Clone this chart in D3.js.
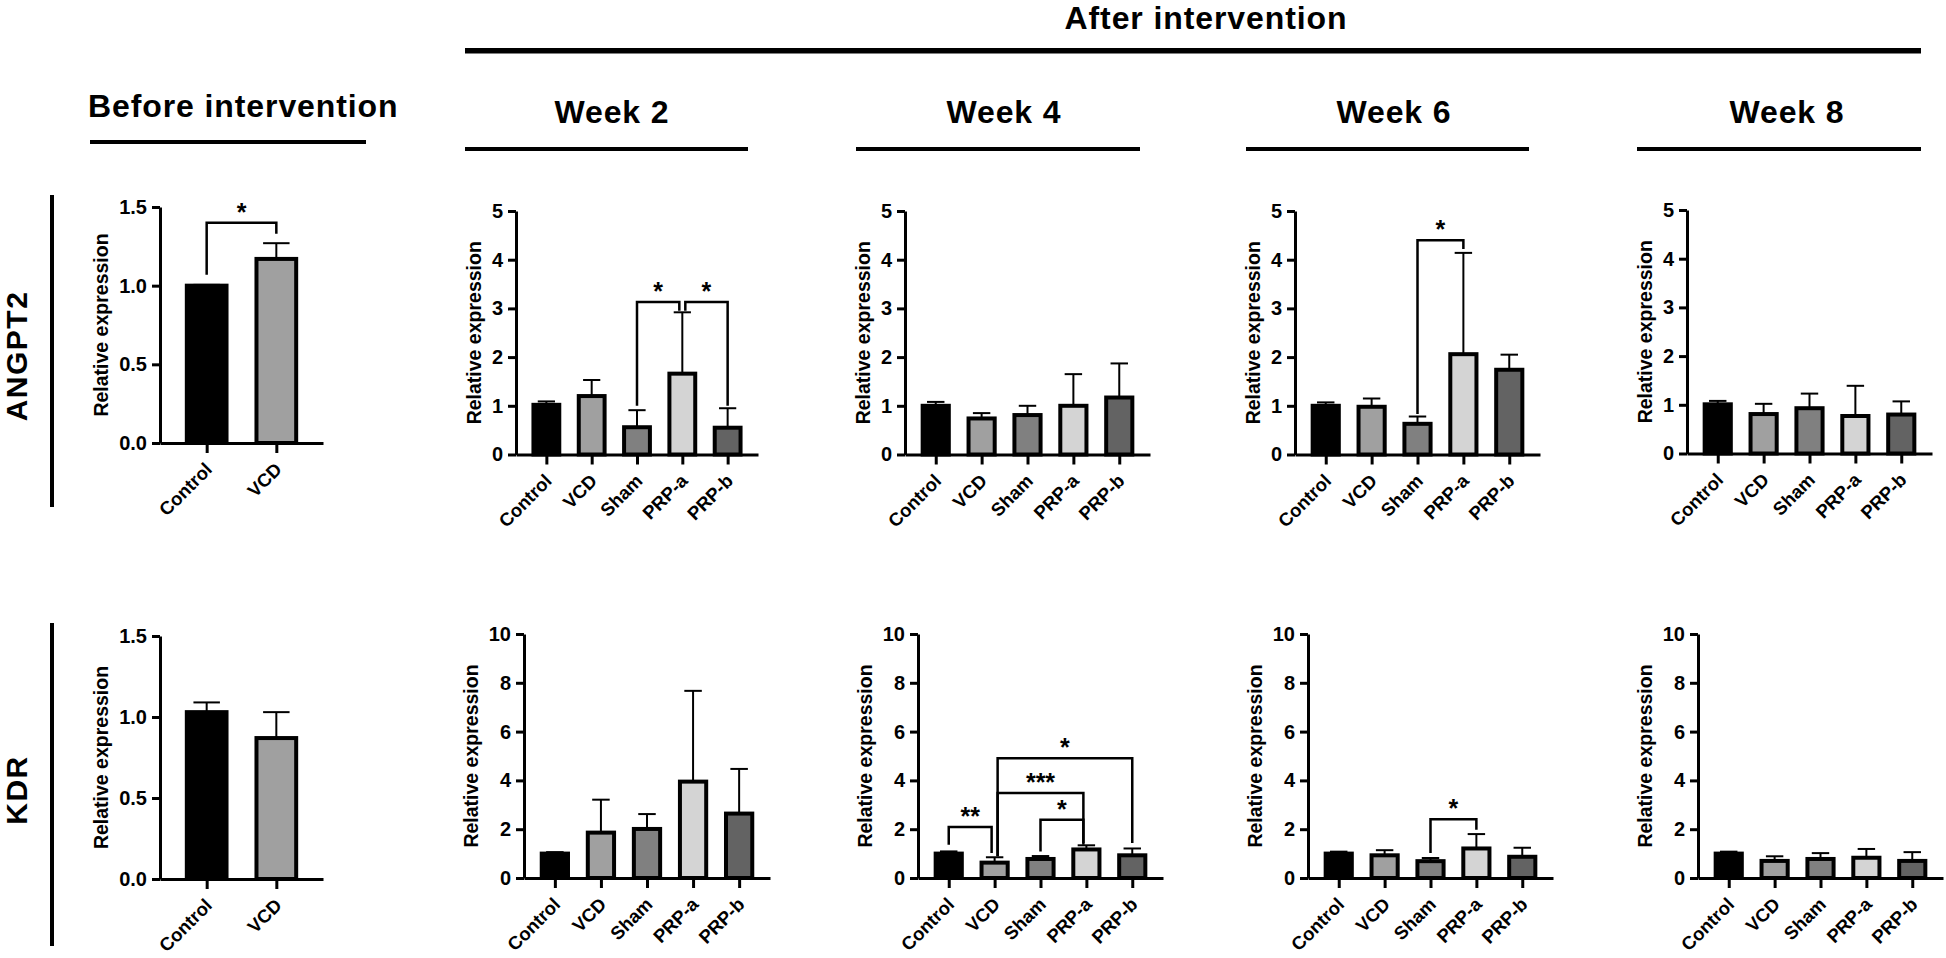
<!DOCTYPE html>
<html><head><meta charset="utf-8">
<script src="https://cdn.jsdelivr.net/npm/d3@7"></script>
<style>
body{margin:0;background:#fff}
svg{display:block}
text{font-family:"Liberation Sans",Arial,Helvetica,sans-serif;font-weight:bold;fill:#000}
</style>
</head><body>
<svg id="c" width="1946" height="958"></svg>
<script>
// ---------- data ----------
const groups = ["Control", "VCD", "Sham", "PRP-a", "PRP-b"];
const beforeGroups = ["Control", "VCD"];
const beforeTicks = [0, 0.5, 1.0, 1.5];
const angpt2Ticks = [0, 1, 2, 3, 4, 5];
const kdrTicks = [0, 2, 4, 6, 8, 10];
const weekTitles = ["Week 2", "Week 4", "Week 6", "Week 8"];
const rowLabels = ["ANGPT2", "KDR"];

const angpt2BeforeMean = [1.00, 1.17];
const angpt2BeforeSD   = [0.005, 0.10];
const kdrBeforeMean    = [1.03, 0.87];
const kdrBeforeSD      = [0.06, 0.16];

const angpt2W2Mean = [1.02, 1.20, 0.56, 1.66, 0.55];
const angpt2W2SD   = [0.07, 0.33, 0.35, 1.26, 0.40];
const angpt2W4Mean = [1.00, 0.74, 0.81, 1.00, 1.17];
const angpt2W4SD   = [0.08, 0.11, 0.19, 0.65, 0.70];
const angpt2W6Mean = [1.00, 0.98, 0.63, 2.06, 1.74];
const angpt2W6SD   = [0.07, 0.17, 0.15, 2.08, 0.31];
const angpt2W8Mean = [1.01, 0.81, 0.93, 0.77, 0.80];
const angpt2W8SD   = [0.07, 0.21, 0.30, 0.62, 0.27];

const kdrW2Mean = [1.00, 1.86, 2.01, 3.95, 2.64];
const kdrW2SD   = [0.06, 1.35, 0.61, 3.72, 1.83];
const kdrW4Mean = [1.00, 0.63, 0.78, 1.17, 0.93];
const kdrW4SD   = [0.09, 0.22, 0.12, 0.17, 0.28];
const kdrW6Mean = [1.00, 0.93, 0.69, 1.21, 0.87];
const kdrW6SD   = [0.08, 0.21, 0.13, 0.59, 0.37];
const kdrW8Mean = [1.00, 0.70, 0.78, 0.83, 0.70];
const kdrW8SD   = [0.08, 0.19, 0.24, 0.36, 0.36];

// significance brackets: groups, bracket height, leg ends (data units), label
const angpt2BeforeSig = [{a:"Control", b:"VCD", y:1.40, la:1.07, lb:1.33, label:"*"}];
const angpt2W2Sig = [
  {a:"Sham", b:"PRP-a", y:3.13, la:1.00, lb:2.95, label:"*"},
  {a:"PRP-a", b:"PRP-b", y:3.13, la:2.95, lb:1.00, label:"*"}
];
const angpt2W6Sig = [{a:"Sham", b:"PRP-a", y:4.40, la:0.83, lb:4.22, label:"*"}];
const kdrW4Sig = [
  {a:"Control", b:"VCD", y:2.09, la:1.36, lb:1.02, label:"**"},
  {a:"Sham", b:"PRP-a", y:2.39, la:1.09, lb:1.43, label:"*"},
  {a:"VCD", b:"PRP-a", y:3.48, la:0.89, lb:1.36, label:"***"},
  {a:"VCD", b:"PRP-b", y:4.91, la:0.89, lb:1.43, label:"*"}
];
const kdrW6Sig = [{a:"Sham", b:"PRP-a", y:2.41, la:1.02, lb:1.98, label:"*"}];

// ---------- styles ----------
const fillColor = {"Control":"#000000", "VCD":"#a0a0a0", "Sham":"#808080", "PRP-a":"#d4d4d4", "PRP-b":"#636363"};

// ---------- layout ----------
const panels = [
  {cats:beforeGroups, mean:angpt2BeforeMean, sd:angpt2BeforeSD, ticks:beforeTicks, fmt:d3.format(".1f"), sig:angpt2BeforeSig, x0:160, x1:323, yTop:207, yBot:443},
  {cats:groups, mean:angpt2W2Mean, sd:angpt2W2SD, ticks:angpt2Ticks, fmt:d3.format("d"), sig:angpt2W2Sig, x0:516, x1:758, yTop:211, yBot:454.5},
  {cats:groups, mean:angpt2W4Mean, sd:angpt2W4SD, ticks:angpt2Ticks, fmt:d3.format("d"), sig:[], x0:905, x1:1150, yTop:211, yBot:454.5},
  {cats:groups, mean:angpt2W6Mean, sd:angpt2W6SD, ticks:angpt2Ticks, fmt:d3.format("d"), sig:angpt2W6Sig, x0:1295, x1:1540, yTop:211, yBot:454.5},
  {cats:groups, mean:angpt2W8Mean, sd:angpt2W8SD, ticks:angpt2Ticks, fmt:d3.format("d"), sig:[], x0:1687, x1:1932, yTop:210, yBot:453.5},
  {cats:beforeGroups, mean:kdrBeforeMean, sd:kdrBeforeSD, ticks:beforeTicks, fmt:d3.format(".1f"), sig:[], x0:160, x1:323, yTop:636, yBot:879},
  {cats:groups, mean:kdrW2Mean, sd:kdrW2SD, ticks:kdrTicks, fmt:d3.format("d"), sig:[], x0:524, x1:770, yTop:634, yBot:878},
  {cats:groups, mean:kdrW4Mean, sd:kdrW4SD, ticks:kdrTicks, fmt:d3.format("d"), sig:kdrW4Sig, x0:918, x1:1163, yTop:634, yBot:878},
  {cats:groups, mean:kdrW6Mean, sd:kdrW6SD, ticks:kdrTicks, fmt:d3.format("d"), sig:kdrW6Sig, x0:1308, x1:1553, yTop:634, yBot:878},
  {cats:groups, mean:kdrW8Mean, sd:kdrW8SD, ticks:kdrTicks, fmt:d3.format("d"), sig:[], x0:1698, x1:1943, yTop:634, yBot:878}
];

const svg = d3.select("#c");
svg.append("rect").attr("width",1946).attr("height",958).attr("fill","#fff");

function drawPanel(p) {
  const g = svg.append("g");
  const x = d3.scalePoint().domain(p.cats).range([p.x0, p.x1]).padding(0.67);
  const yMax = p.ticks[p.ticks.length-1];
  const y = d3.scaleLinear().domain([0, yMax]).range([p.yBot, p.yTop]);
  const step = x.step();
  const bw = step * 0.57;
  const cap = step * 0.19;
  const data = p.cats.map((c,i)=>({c, m:p.mean[i], s:p.sd[i]}));

  // bars
  g.selectAll("rect.bar").data(data).join("rect")
    .attr("x", d=>x(d.c)-bw/2).attr("width", bw)
    .attr("y", d=>y(d.m)).attr("height", d=>y(0)-y(d.m))
    .attr("fill", d=>fillColor[d.c]).attr("stroke","#000").attr("stroke-width",4);
  // error bars (upper)
  g.selectAll("line.err").data(data).join("line")
    .attr("x1", d=>x(d.c)).attr("x2", d=>x(d.c))
    .attr("y1", d=>y(d.m)).attr("y2", d=>y(d.m+d.s))
    .attr("stroke","#000").attr("stroke-width",2);
  g.selectAll("line.cap").data(data).join("line")
    .attr("x1", d=>x(d.c)-cap).attr("x2", d=>x(d.c)+cap)
    .attr("y1", d=>y(d.m+d.s)).attr("y2", d=>y(d.m+d.s))
    .attr("stroke","#000").attr("stroke-width",2);

  // y axis
  const ya = g.append("g").attr("transform", `translate(${p.x0},0)`)
    .call(d3.axisLeft(y).tickValues(p.ticks).tickFormat(p.fmt).tickSize(8).tickSizeOuter(0).tickPadding(5));
  ya.select(".domain").attr("stroke-width",3);
  ya.selectAll(".tick line").attr("stroke-width",3);
  ya.selectAll(".tick text").attr("font-size",20).style("font-family",'"Liberation Sans",Arial,sans-serif').style("font-weight","bold");

  // x axis
  const xa = g.append("g").attr("transform", `translate(0,${p.yBot})`)
    .call(d3.axisBottom(x).tickSize(10).tickSizeOuter(0).tickFormat(""));
  xa.select(".domain").attr("stroke-width",3);
  xa.selectAll(".tick line").attr("stroke-width",3);
  xa.selectAll(".tick text").remove();
  g.selectAll("text.xl").data(p.cats).join("text").attr("class","xl")
    .attr("transform", c=>`translate(${x(c)+2},${p.yBot+23}) rotate(-45)`)
    .attr("text-anchor","end").attr("dy","0.35em").attr("font-size",18.5).text(c=>c);

  // y label
  let minX = d3.min(ya.selectAll(".tick text").nodes(), n=>n.getBBox().x);
  const lx = p.x0 + minX - 18;
  g.append("text").attr("transform", `translate(${lx},${(p.yTop+p.yBot)/2}) rotate(-90)`)
    .attr("text-anchor","middle").attr("dy","0.35em").attr("font-size",19.5).text("Relative expression");

  // significance brackets
  const count = {};
  p.sig.forEach(s=>{count[s.a]=(count[s.a]||0)+1; count[s.b]=(count[s.b]||0)+1;});
  p.sig.forEach(s=>{
    const xa1 = x(s.a) + (count[s.a]>1 ? 3 : 0);
    const xb1 = x(s.b) - (count[s.b]>1 ? 3 : 0);
    g.append("path")
      .attr("d", `M${xa1},${y(s.la)}V${y(s.y)}H${xb1}V${y(s.lb)}`)
      .attr("fill","none").attr("stroke","#000").attr("stroke-width",2.5);
    g.append("text").attr("x",(xa1+xb1)/2).attr("y", y(s.y)-2)
      .attr("text-anchor","middle").attr("font-size",25).text(s.label);
  });
}
panels.forEach(drawPanel);

// ---------- headers ----------
svg.append("text").attr("x",88).attr("y",117).attr("font-size",32).attr("letter-spacing","0.9px").text("Before intervention");
svg.append("rect").attr("x",90).attr("y",140).attr("width",276).attr("height",4);

svg.append("text").attr("x",1206).attr("y",29).attr("text-anchor","middle").attr("font-size",32).attr("letter-spacing","0.9px").text("After intervention");
svg.append("rect").attr("x",465).attr("y",48).attr("width",1456).attr("height",5.5);

const weekCenters = [612, 1004, 1394, 1787];
const weekLines = [[465,748],[856,1140],[1246,1529],[1637,1921]];
weekTitles.forEach((t,i)=>{
  svg.append("text").attr("x",weekCenters[i]).attr("y",123).attr("text-anchor","middle")
    .attr("font-size",32).attr("letter-spacing","0.9px").text(t);
  svg.append("rect").attr("x",weekLines[i][0]).attr("y",147).attr("width",weekLines[i][1]-weekLines[i][0]).attr("height",4);
});

// row labels
const rowCenters = [356, 790];
const rowLines = [[195,507],[623,946]];
rowLabels.forEach((t,i)=>{
  svg.append("text").attr("transform",`translate(27,${rowCenters[i]}) rotate(-90)`)
    .attr("text-anchor","middle").attr("font-size",30).attr("letter-spacing","1.5px").text(t);
  svg.append("rect").attr("x",50).attr("y",rowLines[i][0]).attr("width",4).attr("height",rowLines[i][1]-rowLines[i][0]);
});
</script>
</body></html>
